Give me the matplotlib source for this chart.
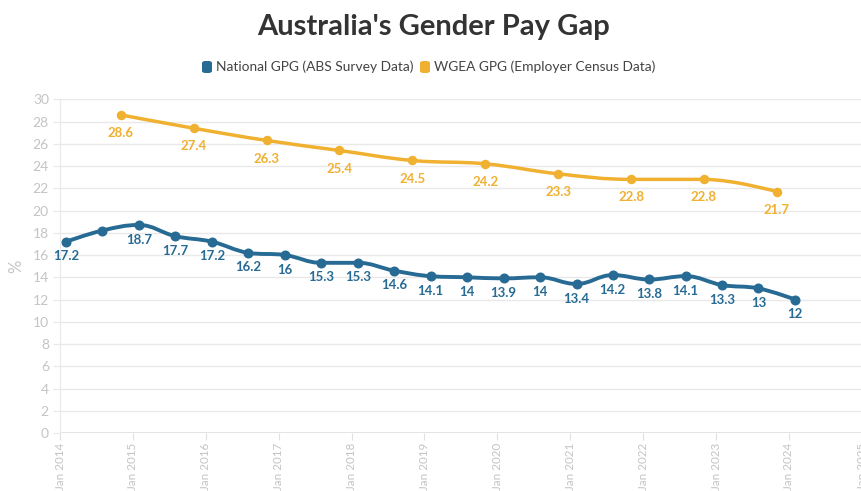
import numpy as np
import matplotlib
matplotlib.use("Agg")
import matplotlib.pyplot as plt
import matplotlib.dates as mdates
from matplotlib.path import Path
from matplotlib.patches import PathPatch, FancyBboxPatch
from datetime import datetime

plt.rcParams['font.family'] = ['Lato', 'DejaVu Sans']

# ---- data ----
abs_dates = ["2014-02", "2014-08", "2015-02", "2015-08", "2016-02", "2016-08",
             "2017-02", "2017-08", "2018-02", "2018-08", "2019-02", "2019-08",
             "2020-02", "2020-08", "2021-02", "2021-08", "2022-02", "2022-08",
             "2023-02", "2023-08", "2024-02"]
abs_values = [17.2, 18.2, 18.7, 17.7, 17.2, 16.2, 16, 15.3, 15.3, 14.6, 14.1,
              14, 13.9, 14, 13.4, 14.2, 13.8, 14.1, 13.3, 13, 12]
abs_show_label = [True, False] + [True] * 19

wgea_dates = ["2014-11", "2015-11", "2016-11", "2017-11", "2018-11",
              "2019-11", "2020-11", "2021-11", "2022-11", "2023-11"]
wgea_values = [28.6, 27.4, 26.3, 25.4, 24.5, 24.2, 23.3, 22.8, 22.8, 21.7]

tick_years = list(range(2014, 2026))
y_ticks = list(range(0, 31, 2))

series_names = ["National GPG (ABS Survey Data)", "WGEA GPG (Employer Census Data)"]
title = "Australia's Gender Pay Gap"
y_label = "%"

BLUE = "#276b94"
ORANGE = "#f0b030"
GRID = "#e9e9e9"
TICKC = "#c4c4c4"


def to_num(ds):
    return np.array([mdates.date2num(datetime.strptime(d, "%Y-%m")) for d in ds])


def spline_path(xs, ys, smoothing=1.5):
    """Highcharts-style spline through the data points as cubic Bezier."""
    n = len(xs)
    denom = smoothing + 1
    lc = [None] * n
    rc = [None] * n
    for i in range(1, n - 1):
        px, py = xs[i], ys[i]
        lx, ly = xs[i - 1], ys[i - 1]
        nx, ny = xs[i + 1], ys[i + 1]
        lcx = (smoothing * px + lx) / denom
        lcy = (smoothing * py + ly) / denom
        rcx = (smoothing * px + nx) / denom
        rcy = (smoothing * py + ny) / denom
        corr = 0
        if rcx != lcx:
            corr = (rcy - lcy) * (rcx - px) / (rcx - lcx) + py - rcy
        lcy += corr
        rcy += corr
        if lcy > ly and lcy > py:
            lcy = max(ly, py); rcy = 2 * py - lcy
        elif lcy < ly and lcy < py:
            lcy = min(ly, py); rcy = 2 * py - lcy
        if rcy > ny and rcy > py:
            rcy = max(ny, py); lcy = 2 * py - rcy
        elif rcy < ny and rcy < py:
            rcy = min(ny, py); lcy = 2 * py - rcy
        lc[i] = (lcx, lcy)
        rc[i] = (rcx, rcy)
    verts = [(xs[0], ys[0])]
    codes = [Path.MOVETO]
    for i in range(1, n):
        c1 = rc[i - 1] if rc[i - 1] is not None else (xs[i - 1], ys[i - 1])
        c2 = lc[i] if lc[i] is not None else (xs[i], ys[i])
        verts += [c1, c2, (xs[i], ys[i])]
        codes += [Path.CURVE4] * 3
    return Path(verts, codes)


fig = plt.figure(figsize=(8.62, 4.91), dpi=100)
W, H = 862, 491
left, right, top, bottom = 60, 862, 99.3, 433
ax = fig.add_axes([left / W, (H - bottom) / H, (right - left) / W, (bottom - top) / H])

ax.set_ylim(0, 30)
ax.set_xlim(mdates.date2num(datetime(2014, 1, 1)), mdates.date2num(datetime(2025, 1, 1)))

ax.set_yticks(y_ticks)
ax.grid(axis='y', color=GRID, linewidth=1)
ax.set_axisbelow(True)
for s in ['top', 'right', 'bottom']:
    ax.spines[s].set_visible(False)
ax.spines['left'].set_color(GRID)
ax.axhline(0, color="#e0e0e0", linewidth=1.2, zorder=1)

xt = [mdates.date2num(datetime(y, 1, 1)) for y in tick_years]
ax.set_xticks(xt)
ax.set_xticklabels([f"Jan {y}" for y in tick_years], rotation=90, color=TICKC, fontsize=8.4)
ax.tick_params(axis='x', length=5, color="#e0e0e0", pad=2)
ax.tick_params(axis='y', length=5, color="#e8e8e8", labelcolor=TICKC, labelsize=10, pad=3)
for lbl in ax.get_xticklabels():
    lbl.set_verticalalignment('top')
ax.set_ylabel(y_label, color=TICKC, fontsize=12, labelpad=6)

xa, ya = to_num(abs_dates), np.array(abs_values, dtype=float)
xw, yw = to_num(wgea_dates), np.array(wgea_values, dtype=float)

ax.add_patch(PathPatch(spline_path(xw, yw), facecolor='none', edgecolor=ORANGE,
                       linewidth=2.5, capstyle='round', joinstyle='round', zorder=3))
ax.plot(xw, yw, 'o', color=ORANGE, markersize=5.8, zorder=4)
ax.add_patch(PathPatch(spline_path(xa, ya), facecolor='none', edgecolor=BLUE,
                       linewidth=2.8, capstyle='round', joinstyle='round', zorder=3))
ax.plot(xa, ya, 'o', color=BLUE, markersize=6.2, zorder=4)

for x, y in zip(xw, yw):
    ax.annotate(f"{y:g}", (x, y), xytext=(0, -13), textcoords='offset points',
                ha='center', va='center', color=ORANGE, fontsize=9.5, fontweight='bold')
for x, y, show in zip(xa, ya, abs_show_label):
    if show:
        ax.annotate(f"{y:g}", (x, y), xytext=(0, -10.5), textcoords='offset points',
                    ha='center', va='center', color=BLUE, fontsize=9.5, fontweight='bold')

fig.text(434 / W, 1 - 27 / H, title, ha='center', va='center', fontsize=21,
         fontweight='bold', color='#333333')

# legend
leg_y = 1 - 67 / H
items = [(202, series_names[0], BLUE), (420, series_names[1], ORANGE)]
for x0, name, col in items:
    fig.patches.append(FancyBboxPatch((x0 / W, leg_y - 6 / H), 10 / W, 12 / H,
                                      boxstyle="round,pad=0,rounding_size=0.004",
                                      transform=fig.transFigure, facecolor=col,
                                      edgecolor='none'))
    fig.text((x0 + 14) / W, leg_y, name, ha='left', va='center', fontsize=9.9,
             color='#444444')

fig.savefig("out.png", dpi=100)
